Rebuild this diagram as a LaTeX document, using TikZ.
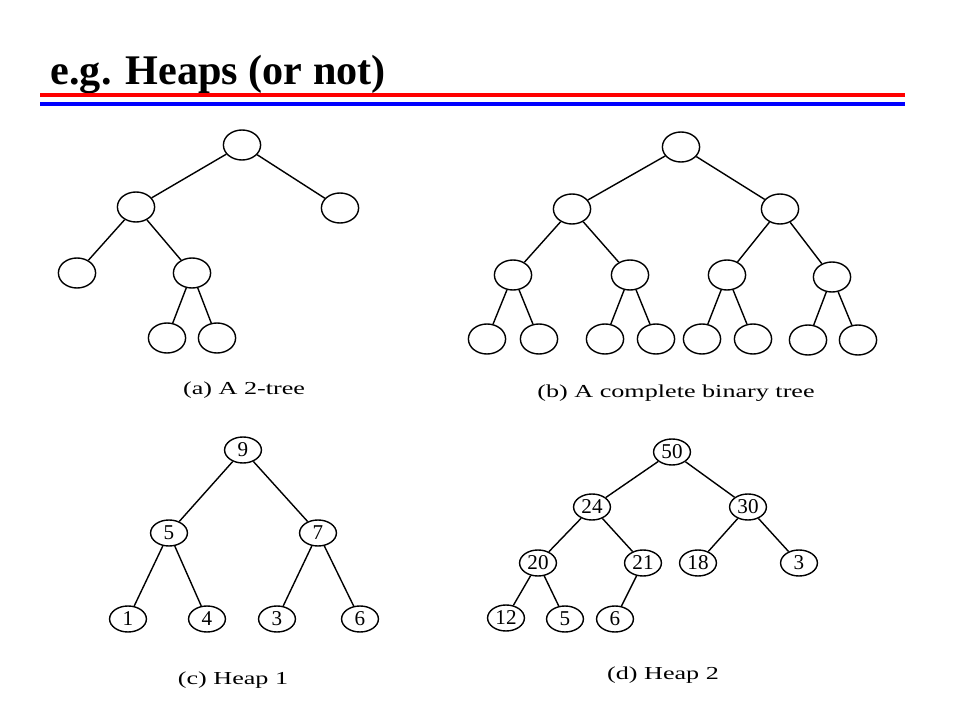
\documentclass[tikz,border=0pt]{standalone}
\usepackage{fontspec}
\setmainfont{Liberation Serif}
\usepackage{tikz}
\usetikzlibrary{positioning, shapes.geometric}

\begin{document}
\begin{tikzpicture}[x=0.025cm,y=-0.025cm,line width=1pt,
        blank/.style={draw,ellipse,inner sep=0pt,minimum width=0.93cm,minimum height=0.75cm},
        key/.style={draw,ellipse,inner sep=0pt,minimum width=0.92cm,minimum height=0.65cm,font=\fontsize{15}{18}\selectfont},
        caption/.style={font=\fontsize{13}{15}\selectfont,xscale=1.43,transform shape}]
        \useasboundingbox (0,0) rectangle (960,720);

        % title and rules
        \node[anchor=base west,inner sep=0pt,font=\bfseries\fontsize{30}{36}\selectfont] (title) at (50,85) {e.g. Heaps (or not)};
        \draw[red,line width=0.1cm]  (40,95.3)  -- (905,95.3);
        \draw[blue,line width=0.1cm] (40,103.7) -- (905,103.7);

        % (a) a 2-tree
        \node[blank] (a0)   at (242,145) {};
        \node[blank] (a1)   at (136,207) {};
        \node[blank] (a2)   at (340,208) {};
        \node[blank] (a11)  at (77,273) {};
        \node[blank] (a12)  at (192,273) {};
        \node[blank] (a121) at (167,338) {};
        \node[blank] (a122) at (217,338) {};
        \node[caption] (capa) at (244,390) {(a) A 2-tree};

        \path (a0)  edge (a1)
                    edge (a2)
              (a1)  edge (a11)
                    edge (a12)
              (a12) edge (a121)
                    edge (a122);

        % (b) a complete binary tree
        \node[blank] (b1)  at (681,147) {};
        \node[blank] (b2)  at (572,209) {};
        \node[blank] (b3)  at (780,209) {};
        \node[blank] (b4)  at (513,275) {};
        \node[blank] (b5)  at (630,275) {};
        \node[blank] (b6)  at (727,275) {};
        \node[blank] (b7)  at (832,277) {};
        \node[blank] (b8)  at (487,339) {};
        \node[blank] (b9)  at (539,339) {};
        \node[blank] (b10) at (605,339) {};
        \node[blank] (b11) at (656,339) {};
        \node[blank] (b12) at (702,339) {};
        \node[blank] (b13) at (753,339) {};
        \node[blank] (b14) at (808,340) {};
        \node[blank] (b15) at (858,340) {};
        \node[caption] (capb) at (676,393) {(b) A complete binary tree};

        \path (b1) edge (b2)
                   edge (b3)
              (b2) edge (b4)
                   edge (b5)
              (b3) edge (b6)
                   edge (b7)
              (b4) edge (b8)
                   edge (b9)
              (b5) edge (b10)
                   edge (b11)
              (b6) edge (b12)
                   edge (b13)
              (b7) edge (b14)
                   edge (b15);

        % (c) heap 1
        \node[key] (c9) at (243,450) {9};
        \node[key] (c5) at (169,533) {5};
        \node[key] (c7) at (318,533) {7};
        \node[key] (c1) at (128,619) {1};
        \node[key] (c4) at (207,619) {4};
        \node[key] (c3) at (277,619) {3};
        \node[key] (c6) at (360,619) {6};
        \node[caption] (capc) at (233,680) {(c) Heap 1};

        \path (c9) edge (c5)
                   edge (c7)
              (c5) edge (c1)
                   edge (c4)
              (c7) edge (c3)
                   edge (c6);

        % (d) heap 2
        \node[key] (d50) at (672,452) {50};
        \node[key] (d24) at (592,507) {24};
        \node[key] (d30) at (748,507) {30};
        \node[key] (d20) at (538,563) {20};
        \node[key] (d21) at (643,563) {21};
        \node[key] (d18) at (698,563) {18};
        \node[key] (d3)  at (799,563) {3};
        \node[key] (d12) at (506,618) {12};
        \node[key] (d5)  at (565,619) {5};
        \node[key] (d6)  at (615,619) {6};
        \node[caption] (capd) at (663,675) {(d) Heap 2};

        \path (d50) edge (d24)
                    edge (d30)
              (d24) edge (d20)
                    edge (d21)
              (d30) edge (d18)
                    edge (d3)
              (d20) edge (d12)
                    edge (d5)
              (d21) edge (d6);
\end{tikzpicture}
\end{document}
